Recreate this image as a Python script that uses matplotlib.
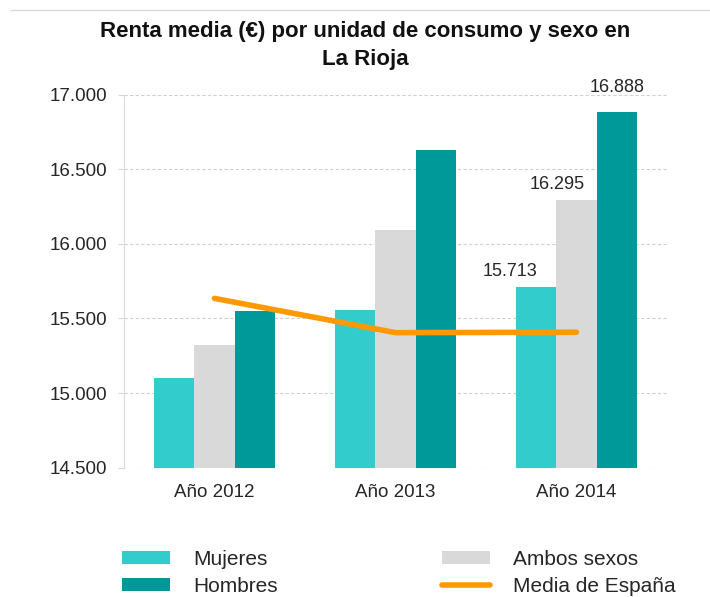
import numpy as np
import matplotlib
matplotlib.use("Agg")
import matplotlib.pyplot as plt
from matplotlib.lines import Line2D
from matplotlib.ticker import FuncFormatter

# data
years = ["Año 2012", "Año 2013", "Año 2014"]
mujeres = [15098, 15559, 15713]
ambos = [15320, 16093, 16295]
hombres = [15551, 16634, 16888]
media_espana = [15635, 15405, 15408]
yticks = [14500, 15000, 15500, 16000, 16500, 17000]

C_MUJ = "#33CCCC"
C_AMB = "#D9D9D9"
C_HOM = "#009999"
C_ESP = "#FF9900"

plt.rcParams["font.family"] = ["Liberation Sans", "DejaVu Sans"]

fig = plt.figure(figsize=(7.10, 5.97), dpi=100)
ax = fig.add_axes([0.1746, 0.2169, 0.7648, 0.624])

x = np.arange(len(years))
w = 0.224
b1 = ax.bar(x - w, mujeres, w, color=C_MUJ, label="Mujeres", zorder=2)
b2 = ax.bar(x, ambos, w, color=C_AMB, label="Ambos sexos", zorder=2)
b3 = ax.bar(x + w, hombres, w, color=C_HOM, label="Hombres", zorder=2)
ln, = ax.plot(x, media_espana, color=C_ESP, lw=4, solid_capstyle="round",
              label="Media de España", zorder=3)

fmt = lambda v: f"{v:,.0f}".replace(",", ".")

# value labels only on the last year
last = len(years) - 1
for bars, dx, dy in ((b1, -19, 5), (b2, -14, 5), (b3, 0, 11)):
    r = bars[last]
    ax.annotate(fmt(r.get_height()), (r.get_x() + r.get_width() / 2, r.get_height()),
                xytext=(dx, dy), textcoords="offset points",
                ha="center", va="bottom", fontsize=13, color="#262626")

ax.set_ylim(14500, 17000)
ax.set_xlim(-0.5, 2.5)
ax.set_yticks(yticks)
ax.yaxis.set_major_formatter(FuncFormatter(lambda v, p: fmt(v)))
ax.set_xticks(x)
ax.set_xticklabels(years)
ax.grid(axis="y", color="#D0D0D0", linestyle=(0, (3, 2)), linewidth=0.8, zorder=0)
ax.set_axisbelow(True)
for s in ("top", "right", "bottom"):
    ax.spines[s].set_visible(False)
ax.spines["left"].set_color("#D9D9D9")
ax.tick_params(axis="y", length=4, color="#D9D9D9", labelsize=13.5,
               labelcolor="#262626", pad=8)
ax.tick_params(axis="x", length=0, labelsize=13.5, labelcolor="#262626", pad=12)

fig.text(0.514, 0.964, "Renta media (€) por unidad de consumo y sexo en\nLa Rioja",
         ha="center", va="top", fontsize=16, fontweight="bold",
         linespacing=1.4, color="#111111")

# thin rule at the top of the figure
fig.add_artist(Line2D([0.015, 1.0], [0.983, 0.983], transform=fig.transFigure,
                      color="#D9D9D9", lw=1))

fig.legend([b1, b3, b2, ln], ["Mujeres", "Hombres", "Ambos sexos", "Media de España"],
           ncol=2, loc="upper left", bbox_to_anchor=(0.172, 0.079),
           frameon=False, fontsize=15, handlelength=2.3, handleheight=0.6,
           handletextpad=1.1, columnspacing=7.9, labelspacing=0.4,
           borderpad=0, borderaxespad=0, labelcolor="#262626")

fig.savefig("out.png", dpi=100)
